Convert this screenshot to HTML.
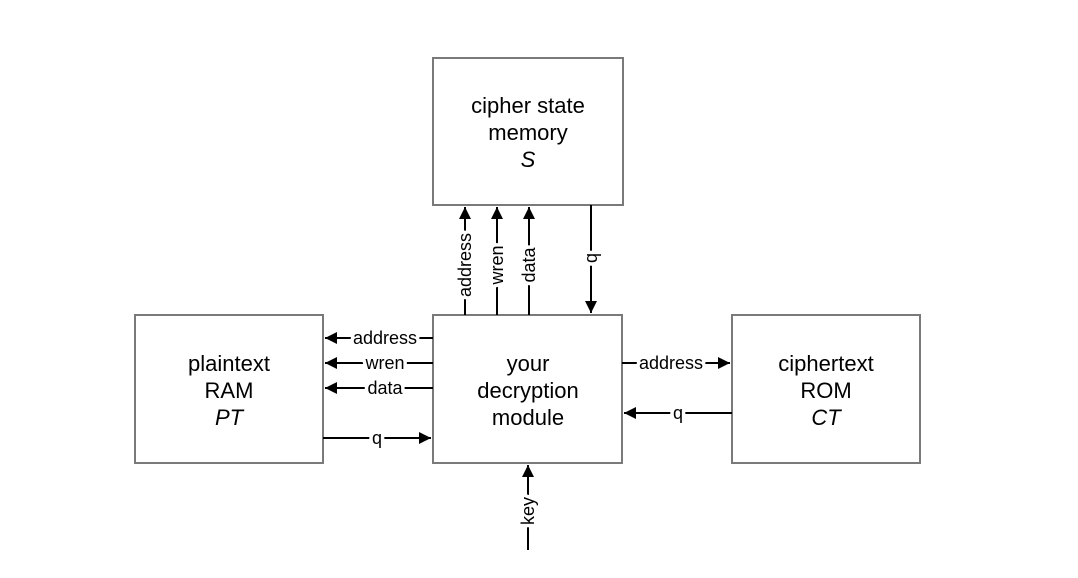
<!DOCTYPE html>
<html><head><meta charset="utf-8"><style>html,body{margin:0;padding:0;background:#fff}svg{display:block}</style></head>
<body>
<svg width="1078" height="578" viewBox="0 0 1078 578" xmlns="http://www.w3.org/2000/svg" font-family="Liberation Sans, Arial, sans-serif">
<defs>
<marker id="a" viewBox="0 0 10 10" refX="10" refY="5" markerWidth="12" markerHeight="12" markerUnits="userSpaceOnUse" orient="auto"><path d="M0,0 L10,5 L0,10 z" fill="#000"/></marker>
</defs>
<g fill="#fff" stroke="#7a7a7a" stroke-width="2">
<rect x="433" y="58" width="190" height="147"/>
<rect x="433" y="315" width="189" height="148"/>
<rect x="135" y="315" width="188" height="148"/>
<rect x="732" y="315" width="188" height="148"/>
</g>
<g font-size="22" text-anchor="middle" fill="#000">
<text x="528" y="113">cipher state</text><text x="528" y="140">memory</text><text x="528" y="167" font-style="italic">S</text>
<text x="528" y="371">your</text><text x="528" y="398">decryption</text><text x="528" y="425">module</text>
<text x="229" y="371">plaintext</text><text x="229" y="398">RAM</text><text x="229" y="425" font-style="italic">PT</text>
<text x="826" y="371">ciphertext</text><text x="826" y="398">ROM</text><text x="826" y="425" font-style="italic">CT</text>
</g>
<g stroke="#000" stroke-width="2" marker-end="url(#a)" fill="none">
<line x1="465" y1="315" x2="465" y2="207"/>
<line x1="497" y1="315" x2="497" y2="207"/>
<line x1="529" y1="315" x2="529" y2="207"/>
<line x1="591" y1="205" x2="591" y2="313"/>
<line x1="433" y1="338" x2="325" y2="338"/>
<line x1="433" y1="363" x2="325" y2="363"/>
<line x1="433" y1="388" x2="325" y2="388"/>
<line x1="323" y1="438" x2="431" y2="438"/>
<line x1="622" y1="363" x2="730" y2="363"/>
<line x1="732" y1="413" x2="624" y2="413"/>
<line x1="528" y1="550" x2="528" y2="465"/>
</g>
<g font-size="18" fill="#000" stroke="#fff" stroke-width="7" paint-order="stroke" text-anchor="middle" stroke-linejoin="round">
<text x="465" y="265" transform="rotate(-90 465 265)" dy="6">address</text>
<text x="497" y="265" transform="rotate(-90 497 265)" dy="6">wren</text>
<text x="529" y="265" transform="rotate(-90 529 265)" dy="6">data</text>
<text x="591" y="258" transform="rotate(-90 591 258)" dy="6">q</text>
<text x="385" y="344">address</text>
<text x="385" y="369">wren</text>
<text x="385" y="394">data</text>
<text x="377" y="444">q</text>
<text x="671" y="369">address</text>
<text x="678" y="419">q</text>
<text x="528" y="511" transform="rotate(-90 528 511)" dy="6">key</text>
</g>
</svg>
</body></html>
